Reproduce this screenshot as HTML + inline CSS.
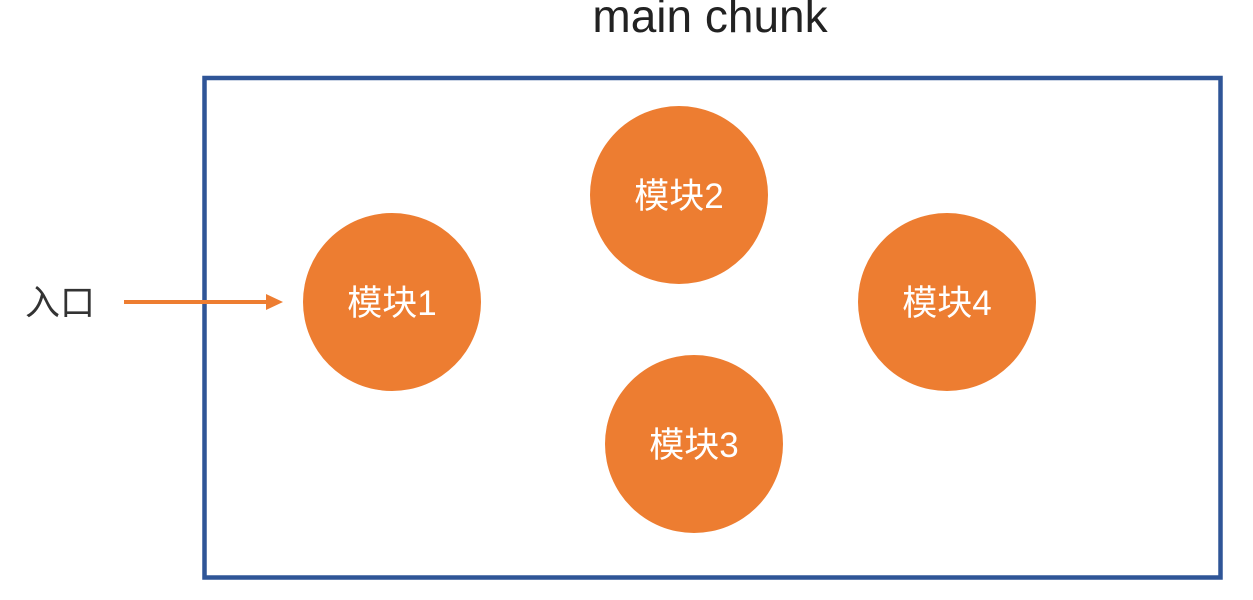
<!DOCTYPE html>
<html><head><meta charset="utf-8"><style>
html,body{margin:0;padding:0;background:#fff;}
</style></head><body>
<svg width="1253" height="595" xmlns="http://www.w3.org/2000/svg">
<text x="710" y="32" text-anchor="middle" font-family="'Liberation Sans', sans-serif" font-size="46" fill="#222">main chunk</text>
<rect x="204.5" y="78" width="1016" height="499.5" fill="none" stroke="#2F5597" stroke-width="4.5"/>
<line x1="124" y1="302" x2="268" y2="302" stroke="#ED7D31" stroke-width="4"/>
<polygon points="266,294 283,302 266,310" fill="#ED7D31"/>
<text x="60" y="315" text-anchor="middle" font-family="'Liberation Sans','Noto Sans CJK SC', sans-serif" font-size="35" fill="#333">入口</text>
<g fill="#ED7D31">
<circle cx="392" cy="302" r="89"/>
<circle cx="679" cy="195" r="89"/>
<circle cx="694" cy="444" r="89"/>
<circle cx="947" cy="302" r="89"/>
</g>
<g font-family="'Liberation Sans','Noto Sans CJK SC', sans-serif" font-size="35" fill="#fff" text-anchor="middle">
<text x="392" y="315">模块1</text>
<text x="679" y="208">模块2</text>
<text x="694" y="457">模块3</text>
<text x="947" y="315">模块4</text>
</g>
</svg>
</body></html>
